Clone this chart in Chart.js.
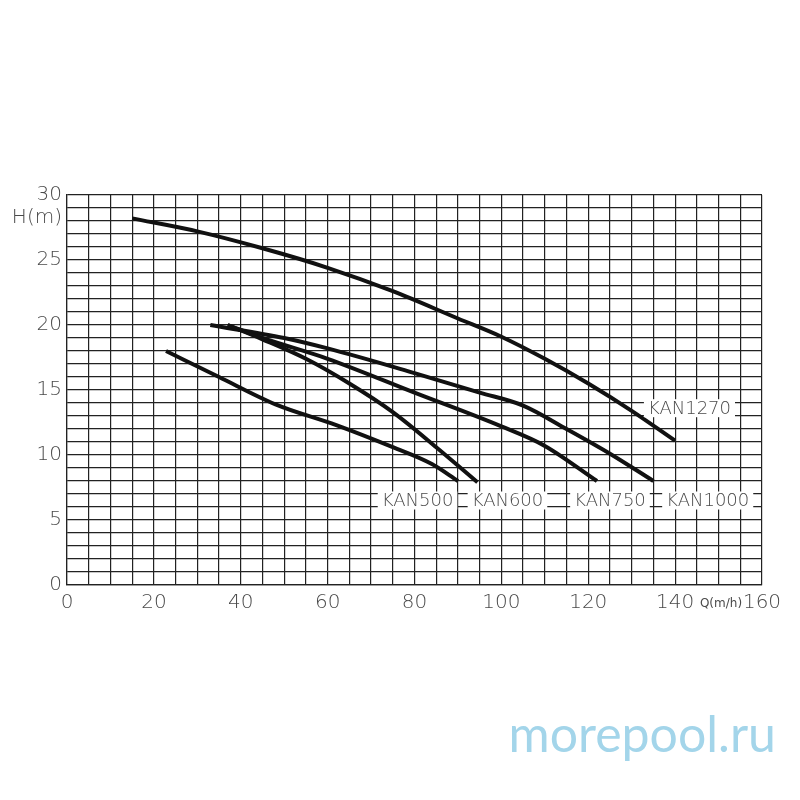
<!DOCTYPE html>
<html>
<head>
<meta charset="utf-8">
<script src="https://cdn.jsdelivr.net/npm/chart.js@4.4.1/dist/chart.umd.min.js"></script>
<style>
  html, body { margin: 0; padding: 0; background: #fff; }
</style>
</head>
<body>
<canvas id="pumpChart" width="800" height="800"></canvas>
<script>
// pump curves, Q in m3/h, H in m
const kan500Q = [22.8, 35, 48, 62, 75, 84, 90];
const kan500H = [18.0, 16.0, 13.9, 12.3, 10.6, 9.3, 8.0];

const kan600Q = [37, 45, 55, 65, 75, 85, 94.5];
const kan600H = [20.0, 18.9, 17.4, 15.5, 13.3, 10.6, 7.9];

const kan750Q = [37, 45, 60, 80, 100, 110, 122];
const kan750H = [20.0, 19.0, 17.4, 14.8, 12.2, 10.7, 8.0];

const kan1000Q = [33, 50, 60, 80, 95, 105, 115, 125, 135];
const kan1000H = [20.0, 19.0, 18.2, 16.3, 14.8, 13.8, 12.0, 10.1, 8.0];

const kan1270Q = [15, 30, 45, 60, 75, 90, 100, 110, 120, 130, 140];
const kan1270H = [28.2, 27.2, 25.9, 24.4, 22.6, 20.5, 19.1, 17.4, 15.5, 13.4, 11.1];

const curveNames = ['KAN500', 'KAN600', 'KAN750', 'KAN1000', 'KAN1270'];
const labelQ = [80.7, 101.4, 125, 147.5, 143.3];
const labelH = [6.5, 6.5, 6.5, 6.5, 13.6];

const xTickLabels = [0, 20, 40, 60, 80, 100, 120, 140, 160];
const yTickLabels = [0, 5, 10, 15, 20, 25, 30];

const toPoints = (qs, hs) => qs.map((q, i) => ({ x: q, y: hs[i] }));

const curveStyle = {
  borderColor: '#111',
  borderWidth: 4,
  pointRadius: 0,
  fill: false,
  cubicInterpolationMode: 'monotone',
};

const textColor = '#4a4a4a';
const textFont = '"DejaVu Sans", sans-serif';

// curve names, axis titles and the site mark
const extrasPlugin = {
  id: 'extras',
  afterDraw(chart) {
    const { ctx, scales: { x, y } } = chart;
    ctx.save();
    ctx.font = '200 18px ' + textFont;
    ctx.textAlign = 'center';
    ctx.textBaseline = 'middle';
    curveNames.forEach((name, i) => {
      const px = x.getPixelForValue(labelQ[i]);
      const py = y.getPixelForValue(labelH[i]);
      const w = ctx.measureText(name).width + 8;
      ctx.fillStyle = '#fff';
      ctx.fillRect(px - w / 2, py - 9, w, 18);
      ctx.fillStyle = textColor;
      ctx.fillText(name, px, py + 1);
    });

    ctx.textAlign = 'right';
    ctx.font = '200 20px ' + textFont;
    ctx.fillText('H(m)', 62, 218);

    ctx.textAlign = 'center';
    ctx.font = '12px ' + textFont;
    ctx.fillText('Q(m/h)', 721, 604);

    ctx.textAlign = 'right';
    ctx.textBaseline = 'alphabetic';
    ctx.font = '50px Lato, "Open Sans", sans-serif';
    ctx.fillStyle = '#a3d5ea';
    ctx.fillText('morepool.ru', 776, 752);
    ctx.restore();
  },
};

new Chart(document.getElementById('pumpChart'), {
  type: 'line',
  data: {
    datasets: [
      { ...curveStyle, label: 'KAN500', data: toPoints(kan500Q, kan500H) },
      { ...curveStyle, label: 'KAN600', data: toPoints(kan600Q, kan600H) },
      { ...curveStyle, label: 'KAN750', data: toPoints(kan750Q, kan750H) },
      { ...curveStyle, label: 'KAN1000', data: toPoints(kan1000Q, kan1000H) },
      { ...curveStyle, label: 'KAN1270', data: toPoints(kan1270Q, kan1270H) },
    ],
  },
  options: {
    responsive: false,
    animation: false,
    layout: { padding: { top: 195, right: 38, left: 0, bottom: 0 } },
    plugins: {
      legend: { display: false },
      tooltip: { enabled: false },
    },
    scales: {
      x: {
        type: 'linear',
        min: 0,
        max: 160,
        afterFit: (scale) => { scale.height = 215; },
        grid: { color: '#222', lineWidth: 1.2, drawTicks: false },
        border: { color: '#222', width: 1.2 },
        ticks: {
          stepSize: 5,
          autoSkip: false,
          maxRotation: 0,
          padding: 6,
          color: textColor,
          font: { family: textFont, size: 20, weight: '200' },
          callback: (v) => (xTickLabels.includes(v) ? String(v) : ''),
        },
      },
      y: {
        min: 0,
        max: 30,
        afterFit: (scale) => { scale.width = 67; },
        grid: { color: '#222', lineWidth: 1.2, drawTicks: false },
        border: { color: '#222', width: 1.2 },
        ticks: {
          stepSize: 1,
          autoSkip: false,
          maxTicksLimit: 100,
          padding: 5,
          color: textColor,
          font: { family: textFont, size: 20, weight: '200' },
          callback: (v) => (yTickLabels.includes(v) ? String(v) : ''),
        },
      },
    },
  },
  plugins: [extrasPlugin],
});
</script>
</body>
</html>
